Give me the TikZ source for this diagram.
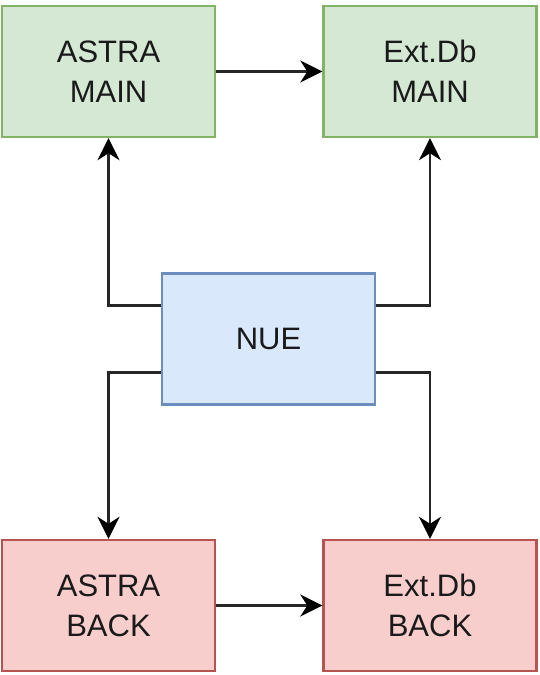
\documentclass[tikz,border=0pt]{standalone}
\usepackage{fontspec}
\setmainfont{Liberation Sans}
\usetikzlibrary{arrows.meta,calc}
\definecolor{gfill}{HTML}{D5E8D4}\definecolor{gline}{HTML}{82B366}
\definecolor{bfill}{HTML}{DAE8FC}\definecolor{bline}{HTML}{6C8EBF}
\definecolor{rfill}{HTML}{F8CECC}\definecolor{rline}{HTML}{B85450}
\definecolor{txt}{HTML}{1A1A1A}
\tikzset{
  box/.style={draw, line width=2.4pt, minimum width=213pt, minimum height=131pt, inner sep=0pt,
    align=center, text=txt, font=\fontsize{31}{40}\selectfont},
  gbox/.style={box, fill=gfill, draw=gline},
  bbox/.style={box, fill=bfill, draw=bline},
  rbox/.style={box, fill=rfill, draw=rline},
  arr/.style={line width=2.6pt, draw=black!85, -{Stealth[length=22pt,width=22pt,inset=7pt,color=black]}}
}
\begin{document}
\begin{tikzpicture}[x=1pt,y=-1pt]
\useasboundingbox (0,0) rectangle (539,675);
\node[gbox] (am) at (108.5,71.5) {ASTRA\\MAIN};
\node[gbox] (em) at (430,71.5) {Ext.Db\\MAIN};
\node[bbox] (nue) at (268.5,339) {NUE};
\node[rbox] (ab) at (108.5,605.5) {ASTRA\\BACK};
\node[rbox] (eb) at (430,605.5) {Ext.Db\\BACK};
\draw[arr] (am.east) -- (em.west);
\draw[arr] (ab.east) -- (eb.west);
\draw[arr] ($(nue.north west)!0.25!(nue.south west)$) -| (am.south);
\draw[arr] ($(nue.north east)!0.25!(nue.south east)$) -| (em.south);
\draw[arr] ($(nue.north west)!0.75!(nue.south west)$) -| (ab.north);
\draw[arr] ($(nue.north east)!0.75!(nue.south east)$) -| (eb.north);
\end{tikzpicture}
\end{document}
